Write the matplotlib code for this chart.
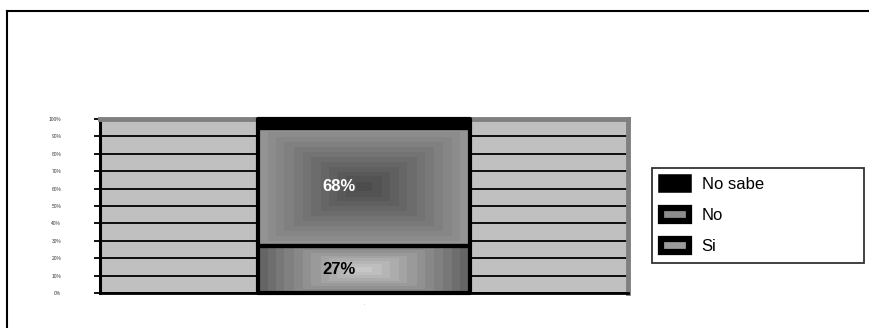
import numpy as np
import matplotlib
matplotlib.use('Agg')
import matplotlib.pyplot as plt
from matplotlib.patches import Patch
from matplotlib.lines import Line2D

plt.rcParams['font.family'] = ['Liberation Sans Narrow', 'Liberation Sans', 'DejaVu Sans']

# data
categories = ['.']
series = ['Si', 'No', 'No sabe']
values = [27, 68, 5]
labels = ['27%', '68%', '']
label_colors = ['black', 'white', 'white']
yticks = [0, 10, 20, 30, 40, 50, 60, 70, 80, 90, 100]
ytick_labels = ['%d%%' % t for t in yticks]


def box_gradient(dark, light, sx=1.0, sy=1.0, steps=12, n=200):
  # stepped "rectangular" gradient, dark in the middle, light at the edges
  x = np.abs(np.linspace(-1, 1, n))
  y = np.abs(np.linspace(-1, 1, n))
  d = np.maximum(x[None, :] * sx, y[:, None] * sy)
  d = np.floor(d * steps) / steps
  return dark + (light - dark) * d


fig = plt.figure(figsize=(8.69, 3.28), dpi=100)
ax = fig.add_axes([0.1151, 0.1067, 0.6076, 0.5305])
ax.set_facecolor('#c0c0c0')

gradients = [
  box_gradient(0.78, 0.36, sx=1.0, sy=0.7),   # Si: light centre, dark sides
  box_gradient(0.30, 0.60),                    # No: dark centre
  None,                                        # No sabe: solid black
]

bottom = 0
for i, (name, v) in enumerate(zip(series, values)):
  face = 'black' if gradients[i] is None else 'none'
  bars = ax.bar(0, v, width=0.40, bottom=bottom, color=face, edgecolor='black',
                linewidth=3.0, joinstyle='round', zorder=3, clip_on=False)
  rect = bars[0]
  if gradients[i] is not None:
    x0, w = rect.get_x(), rect.get_width()
    img = ax.imshow(gradients[i], cmap='gray', vmin=0, vmax=1, aspect='auto',
                    extent=(x0, x0 + w, bottom, bottom + v), zorder=2,
                    interpolation='nearest')
    img.set_clip_path(rect)
  if labels[i]:
    ax.text(-0.047, bottom + v / 2, labels[i], ha='center', va='center',
            fontsize=12, fontweight='bold', color=label_colors[i], zorder=4)
  bottom += v

ax.set_xlim(-0.5, 0.5)
ax.set_ylim(0, 100)
ax.set_yticks(yticks)
ax.set_yticklabels(ytick_labels, fontsize=3.5, color='#333333')
ax.set_xticks([0])
ax.set_xticklabels(categories, fontsize=4, color='#888888')
ax.tick_params(axis='x', length=0, pad=6)
ax.tick_params(axis='y', length=4, width=1.3, color='black', pad=24)

ax.set_axisbelow(True)
ax.yaxis.grid(True, color='black', linewidth=1.3)

for side in ['top', 'right']:
  ax.spines[side].set_color('#808080')
  ax.spines[side].set_linewidth(3.5)
ax.spines['left'].set_color('black')
ax.spines['left'].set_linewidth(2.2)
ax.spines['bottom'].set_color('black')
ax.spines['bottom'].set_linewidth(2.0)

# legend, reversed order like the original
handles = [
  Patch(facecolor='black', edgecolor='black', linewidth=4, joinstyle='round'),
  Patch(facecolor='#8c8c8c', edgecolor='black', linewidth=4.5, joinstyle='round'),
  Patch(facecolor='#9c9c9c', edgecolor='black', linewidth=4.5, joinstyle='round'),
]
leg = fig.legend(handles, series[::-1], loc='center',
                 bbox_to_anchor=(0.750, 0.192, 0.244, 0.302), mode='expand',
                 borderaxespad=0, fontsize=12, frameon=True, fancybox=False,
                 handlelength=1.7, handleheight=0.8, labelspacing=0.95,
                 borderpad=0.55, handletextpad=0.75)
leg.get_frame().set_edgecolor('black')
leg.get_frame().set_linewidth(1.3)

# outer frame (only top and left visible)
fig.add_artist(Line2D([0.0075, 1.0], [0.966, 0.966], transform=fig.transFigure,
                      color='black', linewidth=1.5))
fig.add_artist(Line2D([0.0075, 0.0075], [0.0, 0.966], transform=fig.transFigure,
                      color='black', linewidth=1.5))

fig.savefig('out.png', dpi=100)
plt.close()
